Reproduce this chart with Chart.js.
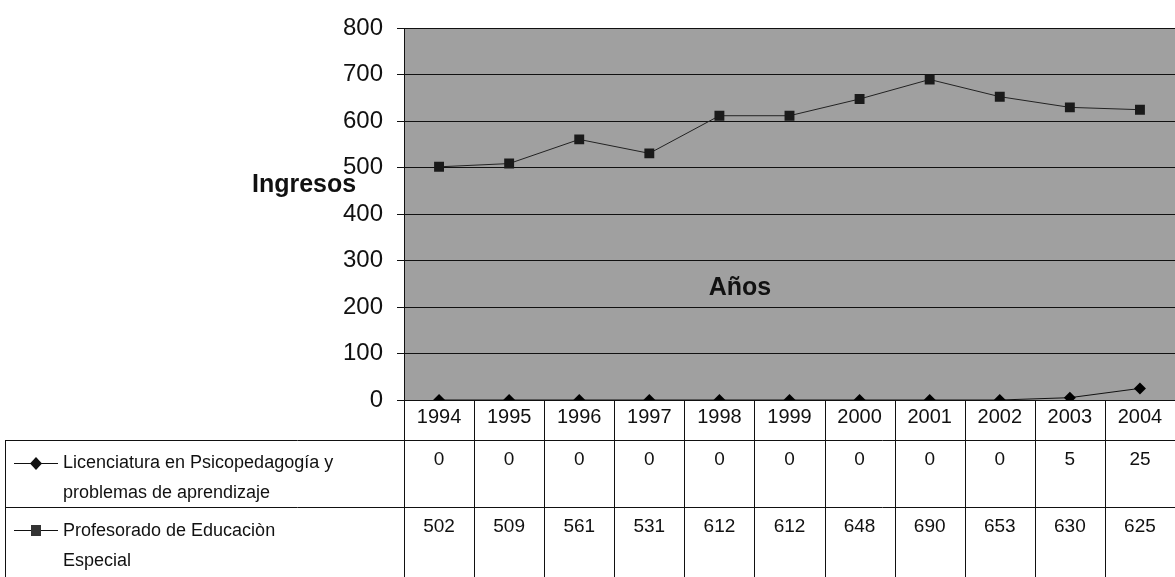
<!DOCTYPE html>
<html>
<head>
<meta charset="utf-8">
<script src="https://cdn.jsdelivr.net/npm/chart.js@4.4.0/dist/chart.umd.min.js"></script>
<style>
  html, body { margin: 0; padding: 0; background: #fff; }
  #wrap { width: 1175px; height: 577px; }
</style>
</head>
<body>
<div id="wrap"><canvas id="lineChart" width="1175" height="577"></canvas></div>
<script>
// datos
var years = ["1994", "1995", "1996", "1997", "1998", "1999", "2000", "2001", "2002", "2003", "2004"];
var licenciatura = [0, 0, 0, 0, 0, 0, 0, 0, 0, 5, 25];
var profesorado = [502, 509, 561, 531, 612, 612, 648, 690, 653, 630, 625];
var serieNames = [
    ["Licenciatura en Psicopedagogía y", "problemas de aprendizaje"],
    ["Profesorado de Educaciòn", "Especial"]
];
var yTicks = [0, 100, 200, 300, 400, 500, 600, 700, 800];

var FONT = "'Liberation Sans', Arial, sans-serif";
var rowTop = [400, 440, 507, 577];

// fondo gris + tabla de datos
var tablaPlugin = {
    id: 'tabla',
    beforeDraw: function (chart) {
        var a = chart.chartArea, c = chart.ctx;
        c.save();
        c.fillStyle = '#a0a0a0';
        c.fillRect(a.left, a.top, a.right - a.left, a.bottom - a.top);
        c.restore();
    },
    afterDraw: function (chart) {
        var c = chart.ctx, x = chart.scales.x, a = chart.chartArea;
        var half = (a.right - a.left) / years.length / 2;
        c.save();
        c.strokeStyle = '#111';
        c.lineWidth = 1;
        // horizontales
        c.beginPath();
        c.moveTo(a.left, rowTop[0] + 0.5); c.lineTo(a.right, rowTop[0] + 0.5);
        c.moveTo(5, rowTop[1] + 0.5); c.lineTo(a.right, rowTop[1] + 0.5);
        c.moveTo(5, rowTop[2] + 0.5); c.lineTo(a.right, rowTop[2] + 0.5);
        c.moveTo(5.5, rowTop[1]); c.lineTo(5.5, 577);
        // verticales
        for (var i = 0; i < years.length; i++) {
            var xl = Math.round(x.getPixelForValue(i) - half) + 0.5;
            c.moveTo(xl, rowTop[0]); c.lineTo(xl, 577);
        }
        c.stroke();

        // textos
        c.fillStyle = '#111';
        c.textAlign = 'center';
        c.textBaseline = 'middle';
        var series = [licenciatura, profesorado];
        for (var i = 0; i < years.length; i++) {
            var cx = x.getPixelForValue(i);
            c.font = '20px ' + FONT;
            c.fillText(years[i], cx, 417);
            c.font = '19px ' + FONT;
            c.fillText(String(series[0][i]), cx, 460);
            c.fillText(String(series[1][i]), cx, 527);
        }

        // leyenda en la tabla
        c.textAlign = 'left';
        c.font = '18px ' + FONT;
        c.fillText(serieNames[0][0], 63, 463);
        c.fillText(serieNames[0][1], 63, 493);
        c.fillText(serieNames[1][0], 63, 531);
        c.fillText(serieNames[1][1], 63, 561);

        c.beginPath();
        c.moveTo(14, 463.5); c.lineTo(58, 463.5);
        c.moveTo(14, 530.5); c.lineTo(58, 530.5);
        c.stroke();
        // rombo
        c.beginPath();
        c.moveTo(36, 457); c.lineTo(42, 463.5); c.lineTo(36, 470); c.lineTo(30, 463.5);
        c.closePath(); c.fill();
        // cuadrado
        c.fillStyle = '#333';
        c.fillRect(31, 525, 10, 11);

        // titulos
        c.fillStyle = '#111';
        c.font = 'bold 25px ' + FONT;
        c.fillText('Ingresos', 252, 185);
        c.textAlign = 'center';
        c.font = 'bold 25px ' + FONT;
        c.fillText('Años', 740, 288);
        c.restore();
    }
};

var ctxL = document.getElementById("lineChart").getContext('2d');
var myLineChart = new Chart(ctxL, {
    type: 'line',
    data: {
        labels: years,
        datasets: [{
            label: serieNames[0].join(' '),
            data: licenciatura,
            borderColor: '#111',
            backgroundColor: '#000',
            borderWidth: 1,
            pointStyle: 'rectRot',
            pointRadius: 6,
            pointBorderWidth: 0,
            tension: 0
        },
        {
            label: serieNames[1].join(' '),
            data: profesorado,
            borderColor: '#222',
            backgroundColor: '#1a1a1a',
            borderWidth: 1,
            pointStyle: 'rect',
            pointRadius: 7,
            pointBorderWidth: 0,
            tension: 0
        }]
    },
    options: {
        responsive: false,
        animation: false,
        layout: { autoPadding: false, padding: { top: 27, bottom: 177, left: 0, right: -8 } },
        plugins: {
            legend: { display: false },
            tooltip: { enabled: false }
        },
        scales: {
            x: {
                display: false,
                offset: true
            },
            y: {
                min: 0,
                max: 800,
                afterFit: function (s) { s.width = 404; },
                afterBuildTicks: function (s) {
                    s.ticks = yTicks.map(function (v) { return { value: v }; });
                },
                border: { display: true, color: '#111', width: 1 },
                grid: {
                    color: '#111',
                    lineWidth: 1,
                    tickLength: 7,
                    drawTicks: true
                },
                ticks: {
                    color: '#111',
                    padding: 14,
                    font: { family: FONT, size: 24 }
                }
            }
        }
    },
    plugins: [tablaPlugin]
});
</script>
</body>
</html>
